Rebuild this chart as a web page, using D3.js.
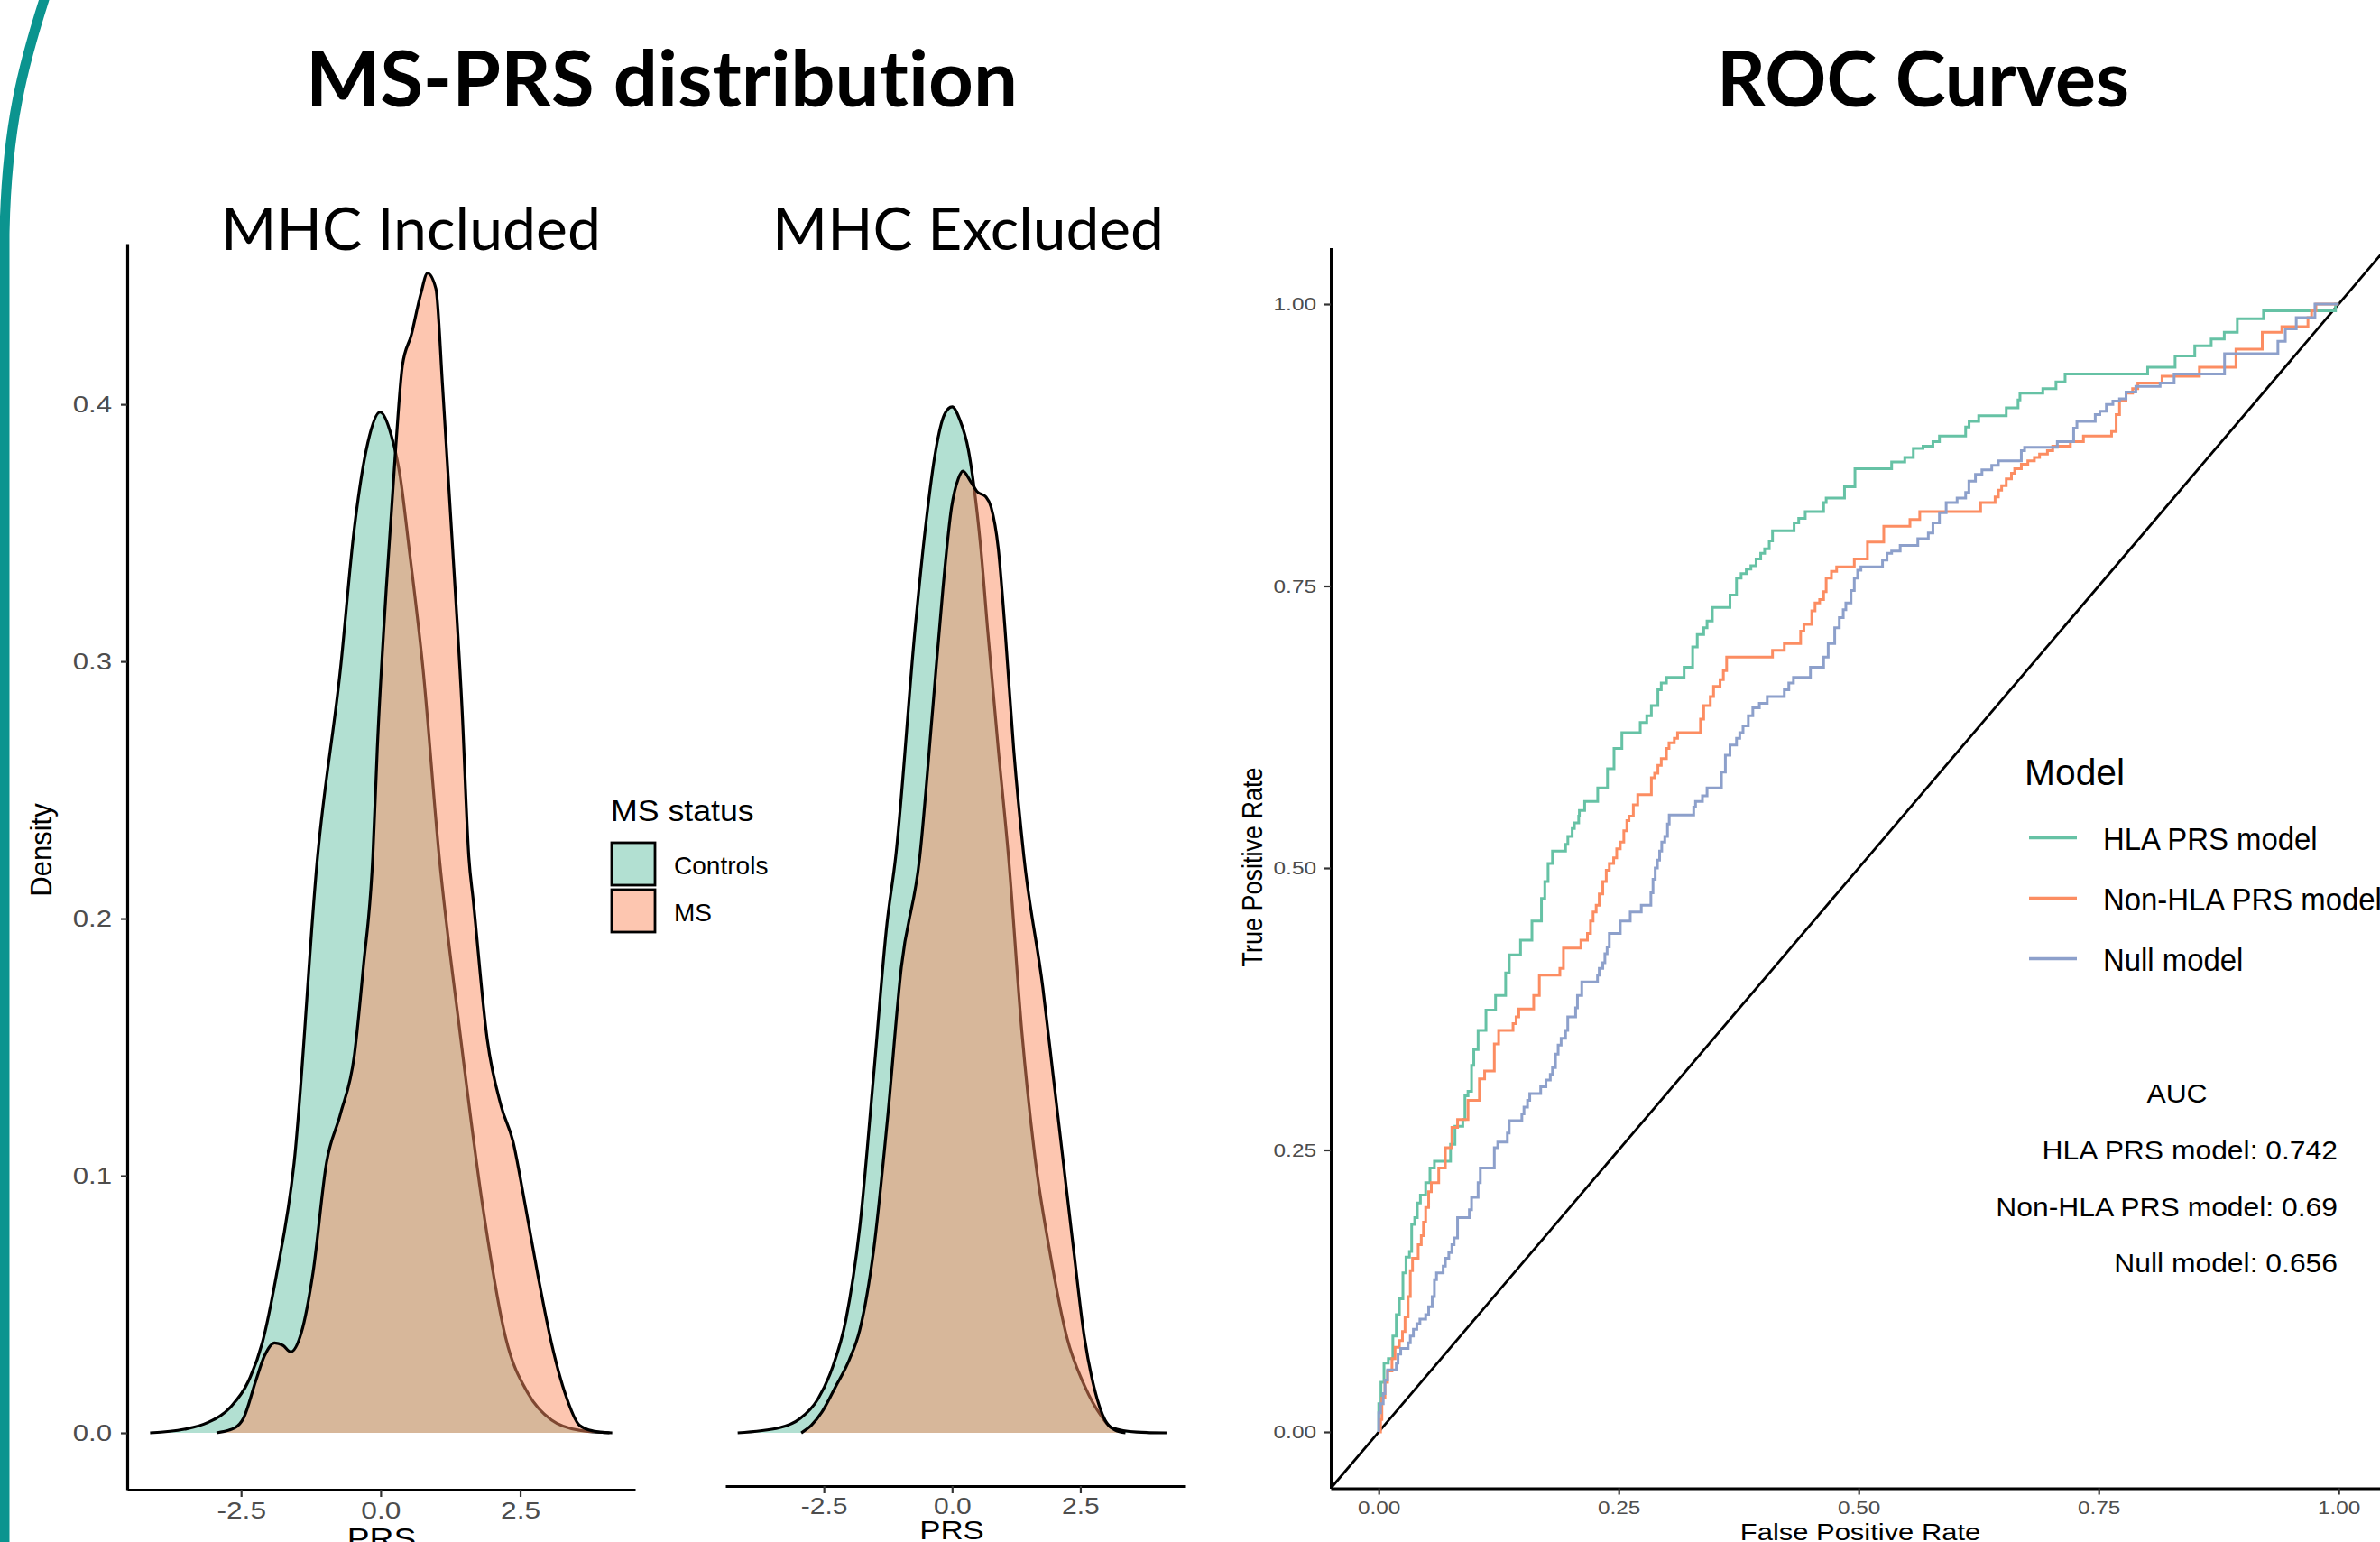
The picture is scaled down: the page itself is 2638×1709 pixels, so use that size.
<!DOCTYPE html>
<html><head><meta charset="utf-8">
<script src="https://cdn.jsdelivr.net/npm/d3@7"></script>
<style>html,body{margin:0;padding:0;background:#fff}svg{display:block}text{font-variant-ligatures:none;font-feature-settings:"liga" 0}</style>
</head><body>
<svg id="chart" width="2638" height="1709"></svg>
<script>
// ---------------- DATA ----------------
const statusNames = ["Controls", "MS"];
const statusColors = ["#66c2a5", "#fc8d62"];
const densityTicks = [0, 0.1, 0.2, 0.3, 0.4];
const prsTicks = [-2.5, 0, 2.5];

// MHC Included: [PRS, density]
const inclControls = [[-4.13,0],[-3.52,0.0014],[-3.1,0.004],[-2.69,0.01],[-2.37,0.02],[-2.12,0.035],[-1.87,0.061],[-1.55,0.105],[-1.13,0.224],[-0.72,0.297],[-0.47,0.352],[-0.23,0.385],[-0.01,0.397],[0.19,0.388],[0.35,0.372],[0.51,0.344],[0.76,0.297],[1.05,0.224],[1.42,0.156],[1.83,0.088],[2.24,0.037],[2.65,0.015],[3.06,0.005],[3.56,0.001],[4.15,0]];
const inclMS = [[-2.94,0],[-2.61,0.002],[-2.45,0.006],[-2.24,0.02],[-2.08,0.03],[-1.9,0.035],[-1.75,0.034],[-1.61,0.0315],[-1.42,0.039],[-1.21,0.0625],[-0.97,0.105],[-0.72,0.124],[-0.47,0.147],[-0.31,0.181],[-0.14,0.224],[-0.06,0.266],[0.1,0.328],[0.27,0.383],[0.39,0.415],[0.55,0.427],[0.72,0.443],[0.84,0.451],[0.99,0.445],[1.11,0.407],[1.29,0.344],[1.46,0.281],[1.58,0.224],[1.66,0.207],[1.91,0.153],[2.16,0.127],[2.37,0.1135],[2.57,0.091],[2.82,0.061],[3.06,0.035],[3.31,0.015],[3.56,0.003],[3.81,0.0007],[4.1,0]];
// MHC Excluded
const exclControls = [[-4.18,0],[-3.36,0.002],[-2.96,0.0056],[-2.62,0.013],[-2.34,0.025],[-2.07,0.044],[-1.8,0.08],[-1.53,0.139],[-1.27,0.198],[-1.1,0.224],[-0.72,0.313],[-0.52,0.352],[-0.32,0.382],[-0.15,0.396],[0,0.399],[0.15,0.394],[0.32,0.382],[0.42,0.369],[0.56,0.344],[0.69,0.313],[0.9,0.266],[1.1,0.224],[1.36,0.156],[1.63,0.105],[1.9,0.071],[2.24,0.037],[2.58,0.0184],[2.91,0.0065],[3.11,0.002],[3.6,0.0003],[4.18,0]];
const exclMS = [[-2.94,0],[-2.74,0.003],[-2.54,0.008],[-2.27,0.018],[-2.0,0.0286],[-1.8,0.04],[-1.53,0.071],[-1.26,0.122],[-0.99,0.181],[-0.63,0.224],[-0.38,0.281],[-0.18,0.328],[-0.01,0.36],[0.12,0.371],[0.21,0.374],[0.36,0.37],[0.49,0.366],[0.66,0.364],[0.76,0.36],[0.9,0.344],[1.03,0.313],[1.2,0.266],[1.4,0.224],[1.77,0.173],[1.97,0.139],[2.17,0.105],[2.37,0.071],[2.58,0.037],[2.78,0.0167],[2.98,0.005],[3.18,0.001],[3.38,0]];

// ROC curves: [false positive rate, true positive rate]
const modelNames = ["HLA PRS model", "Non-HLA PRS model", "Null model"];
const modelColors = ["#66c2a5", "#fc8d62", "#8da0cb"];
const aucValues = ["0.742", "0.69", "0.656"];
const rocTicks = [0, 0.25, 0.5, 0.75, 1];
const hlaRoc = [[0,0],[0,0.025],[0.0023,0.044],[0.0055,0.061],[0.010,0.065],[0.0147,0.085],[0.0183,0.104],[0.0215,0.118],[0.0252,0.141],[0.0284,0.155],[0.032,0.160],[0.0343,0.184],[0.0375,0.190],[0.0402,0.203],[0.0434,0.210],[0.0489,0.221],[0.0534,0.234],[0.058,0.240],[0.0748,0.255],[0.0794,0.271],[0.0876,0.277],[0.0898,0.298],[0.093,0.302],[0.0967,0.325],[0.099,0.339],[0.1035,0.356],[0.1117,0.374],[0.1217,0.387],[0.1322,0.407],[0.136,0.423],[0.1477,0.436],[0.1596,0.453],[0.1695,0.473],[0.173,0.488],[0.1764,0.504],[0.181,0.515],[0.1946,0.521],[0.197,0.528],[0.2015,0.535],[0.2038,0.540],[0.2083,0.546],[0.209,0.551],[0.2145,0.559],[0.2281,0.571],[0.2383,0.588],[0.2451,0.606],[0.2533,0.620],[0.2724,0.629],[0.2792,0.635],[0.284,0.644],[0.2908,0.658],[0.2943,0.664],[0.2997,0.669],[0.3181,0.678],[0.327,0.696],[0.3318,0.707],[0.3385,0.713],[0.342,0.719],[0.3475,0.731],[0.3659,0.742],[0.3727,0.757],[0.3775,0.761],[0.3829,0.765],[0.3877,0.768],[0.3931,0.774],[0.3979,0.779],[0.402,0.783],[0.4068,0.790],[0.4102,0.799],[0.4327,0.806],[0.4375,0.810],[0.4443,0.816],[0.4634,0.824],[0.4661,0.828],[0.4852,0.838],[0.4961,0.854],[0.5343,0.860],[0.548,0.864],[0.5569,0.872],[0.567,0.874],[0.5773,0.878],[0.5841,0.883],[0.6114,0.891],[0.615,0.896],[0.625,0.901],[0.6537,0.908],[0.666,0.915],[0.668,0.921],[0.6918,0.925],[0.7055,0.931],[0.715,0.938],[0.801,0.944],[0.8296,0.954],[0.8501,0.963],[0.8672,0.969],[0.8808,0.975],[0.8944,0.987],[0.9217,0.994],[0.9967,1.0],[1,1]];
const nonHlaRoc = [[0,0],[0.0019,0.011],[0.0033,0.030],[0.0065,0.044],[0.0092,0.054],[0.0138,0.065],[0.017,0.075],[0.0215,0.081],[0.0247,0.089],[0.0274,0.102],[0.0306,0.120],[0.0329,0.143],[0.0352,0.154],[0.0411,0.166],[0.0443,0.174],[0.0466,0.186],[0.0489,0.199],[0.052,0.213],[0.0548,0.221],[0.0625,0.234],[0.0694,0.252],[0.0762,0.270],[0.0821,0.277],[0.093,0.294],[0.1049,0.313],[0.1103,0.320],[0.1204,0.344],[0.1249,0.356],[0.1399,0.362],[0.1431,0.368],[0.1459,0.375],[0.1614,0.387],[0.1673,0.405],[0.1887,0.411],[0.1924,0.429],[0.2106,0.436],[0.2174,0.442],[0.2206,0.453],[0.2233,0.461],[0.2265,0.467],[0.2297,0.477],[0.2334,0.488],[0.237,0.498],[0.2402,0.504],[0.2447,0.509],[0.2479,0.517],[0.2516,0.523],[0.2553,0.533],[0.2585,0.542],[0.2607,0.546],[0.2652,0.556],[0.2698,0.565],[0.284,0.580],[0.2874,0.584],[0.2908,0.591],[0.2943,0.597],[0.2997,0.606],[0.3024,0.611],[0.3079,0.615],[0.3113,0.620],[0.3352,0.632],[0.3385,0.644],[0.3454,0.652],[0.3488,0.661],[0.3556,0.667],[0.359,0.675],[0.3624,0.687],[0.4102,0.693],[0.4225,0.699],[0.4395,0.710],[0.4429,0.716],[0.4511,0.728],[0.4545,0.735],[0.4593,0.738],[0.4634,0.745],[0.4661,0.757],[0.4716,0.763],[0.477,0.767],[0.4954,0.774],[0.5091,0.789],[0.5261,0.803],[0.5534,0.809],[0.5636,0.816],[0.627,0.824],[0.6421,0.829],[0.6455,0.835],[0.6489,0.839],[0.6537,0.845],[0.6591,0.850],[0.6625,0.854],[0.6694,0.858],[0.6762,0.861],[0.683,0.864],[0.6884,0.867],[0.6966,0.870],[0.7021,0.874],[0.7205,0.878],[0.7341,0.883],[0.7634,0.887],[0.7682,0.902],[0.7717,0.914],[0.7785,0.921],[0.7853,0.925],[0.7908,0.930],[0.816,0.936],[0.8549,0.944],[0.893,0.960],[0.9204,0.975],[0.9408,0.980],[0.968,0.988],[0.9718,0.994],[0.9763,1.0],[1,1]];
const nullRoc = [[0,0],[0,0.017],[0.0019,0.025],[0.0047,0.034],[0.0065,0.046],[0.0092,0.055],[0.0183,0.061],[0.0201,0.069],[0.0229,0.074],[0.0306,0.079],[0.0329,0.085],[0.0361,0.091],[0.0397,0.096],[0.0429,0.100],[0.0489,0.104],[0.052,0.111],[0.0557,0.120],[0.058,0.135],[0.0602,0.141],[0.0671,0.147],[0.0694,0.154],[0.073,0.159],[0.0762,0.166],[0.0785,0.172],[0.0821,0.190],[0.0944,0.197],[0.0967,0.208],[0.1035,0.221],[0.1058,0.234],[0.1204,0.252],[0.124,0.257],[0.134,0.265],[0.1359,0.276],[0.1491,0.282],[0.1513,0.288],[0.155,0.294],[0.1573,0.300],[0.1687,0.306],[0.1742,0.312],[0.1787,0.317],[0.181,0.323],[0.1841,0.335],[0.1869,0.343],[0.19,0.349],[0.1946,0.356],[0.1969,0.368],[0.2051,0.376],[0.207,0.387],[0.2115,0.399],[0.2279,0.405],[0.2297,0.411],[0.2334,0.416],[0.2356,0.424],[0.2379,0.430],[0.2402,0.442],[0.2516,0.453],[0.262,0.461],[0.2735,0.467],[0.2835,0.478],[0.2857,0.490],[0.288,0.500],[0.2903,0.507],[0.2926,0.515],[0.2948,0.523],[0.298,0.528],[0.3008,0.539],[0.3026,0.547],[0.3281,0.554],[0.33,0.559],[0.3372,0.564],[0.342,0.571],[0.357,0.585],[0.3611,0.600],[0.3659,0.609],[0.3727,0.615],[0.3761,0.620],[0.3795,0.626],[0.385,0.635],[0.3897,0.642],[0.3965,0.646],[0.4047,0.652],[0.4225,0.658],[0.4272,0.664],[0.432,0.669],[0.4497,0.678],[0.4634,0.687],[0.4682,0.699],[0.475,0.713],[0.4798,0.722],[0.4839,0.729],[0.4866,0.735],[0.492,0.746],[0.4954,0.757],[0.4989,0.764],[0.5023,0.767],[0.5248,0.773],[0.5295,0.779],[0.5343,0.781],[0.5432,0.786],[0.5616,0.792],[0.5725,0.797],[0.5773,0.806],[0.5841,0.815],[0.5911,0.824],[0.6025,0.828],[0.6114,0.833],[0.6148,0.843],[0.6216,0.849],[0.6284,0.853],[0.6386,0.857],[0.6455,0.861],[0.6694,0.870],[0.6728,0.873],[0.7069,0.878],[0.7239,0.890],[0.7273,0.896],[0.7464,0.902],[0.7512,0.905],[0.758,0.911],[0.7648,0.914],[0.7717,0.916],[0.7785,0.922],[0.7887,0.927],[0.814,0.930],[0.8286,0.938],[0.8811,0.956],[0.9367,0.967],[0.9444,0.978],[0.9558,0.988],[0.9753,1.0],[1,1]];
const rocSeries = [hlaRoc, nonHlaRoc, nullRoc];

// ---------------- DRAWING ----------------
const svg = d3.select("#chart");
const SANS = "'Liberation Sans', Arial, Helvetica, sans-serif";
const TITLEF = "Lato, 'Open Sans', sans-serif";

function label(parent, x, y, str, o) {
  const t = parent.append("text")
    .attr("transform", `translate(${x},${y}) scale(${o.sx || 1},1)` + (o.rot ? ` rotate(${o.rot})` : ""))
    .attr("font-family", o.family || SANS)
    .attr("font-size", o.size)
    .attr("font-weight", o.weight || 400)
    .attr("fill", o.fill || "#000")
    .attr("text-anchor", o.anchor || "start")
    .text(str);
  if (o.len) t.attr("textLength", o.len).attr("lengthAdjust", "spacingAndGlyphs");
  return t;
}
function styleAxis(g, size, sx, lw) {
  g.attr("font-family", SANS);
  g.select(".domain").attr("stroke", "#000").attr("stroke-width", lw);
  g.selectAll(".tick line").attr("stroke", "#333").attr("stroke-width", 2.2);
  g.selectAll(".tick text").each(function () {
    const t = d3.select(this);
    const x = +t.attr("x") || 0;
    t.attr("x", 0).attr("transform", `translate(${x},0) scale(${sx},1)`);
  }).attr("font-size", size).attr("fill", "#4d4d4d").attr("font-family", SANS);
}

// decorative teal slide border
svg.append("path").attr("d", "M52,-10 C26,70 7,140 5,260 L5,1720")
  .attr("fill", "none").attr("stroke", "#0b948f").attr("stroke-width", 11);

// titles
label(svg, 733.5, 118, "MS-PRS distribution", {family: TITLEF, weight: 700, size: 87, anchor: "middle", len: 789});
label(svg, 2131.5, 118, "ROC Curves", {family: TITLEF, weight: 700, size: 87, anchor: "middle", len: 457});
label(svg, 455.5, 277, "MHC Included", {family: TITLEF, size: 66, anchor: "middle", len: 421});
label(svg, 1073, 277, "MHC Excluded", {family: TITLEF, size: 66, anchor: "middle", len: 434});

// density scales
const yD = d3.scaleLinear().domain([-0.0221, 0.4625]).range([1651, 270]);
const xL = d3.scaleLinear().domain([-4.54, 4.56]).range([141, 704]);
const xM = d3.scaleLinear().domain([-4.42, 4.55]).range([804, 1314]);

function drawDensities(xs, groups) {
  const g = svg.append("g");
  groups.forEach((data, i) => {
    const area = d3.area().x(d => xs(d[0])).y0(yD(0)).y1(d => yD(d[1])).curve(d3.curveMonotoneX);
    const line = d3.line().x(d => xs(d[0])).y(d => yD(d[1])).curve(d3.curveMonotoneX);
    g.append("path").attr("d", area(data)).attr("fill", statusColors[i]).attr("fill-opacity", 0.5);
    g.append("path").attr("d", line(data)).attr("fill", "none").attr("stroke", "#000").attr("stroke-width", 3.2);
  });
}
drawDensities(xL, [inclControls, inclMS]);
drawDensities(xM, [exclControls, exclMS]);

const fmt1 = d => d.toFixed(1);
// left panel axes
const gyL = svg.append("g").attr("transform", "translate(141,0)")
  .call(d3.axisLeft(yD).tickValues(densityTicks).tickFormat(fmt1).tickSize(7).tickPadding(10).tickSizeOuter(0));
styleAxis(gyL, 26, 1.2, 3.2);
const gxL = svg.append("g").attr("transform", "translate(0,1651)")
  .call(d3.axisBottom(xL).tickValues(prsTicks).tickFormat(fmt1).tickSize(8).tickPadding(6).tickSizeOuter(0));
styleAxis(gxL, 26, 1.22, 3.2);
const gxM = svg.append("g").attr("transform", "translate(0,1647)")
  .call(d3.axisBottom(xM).tickValues(prsTicks).tickFormat(fmt1).tickSize(8).tickPadding(5).tickSizeOuter(0));
styleAxis(gxM, 25, 1.2, 3.2);

label(svg, 57, 942, "Density", {size: 31, sx: 1.1, rot: -90, anchor: "middle"});
label(svg, 423, 1716, "PRS", {size: 31, sx: 1.2, anchor: "middle"});
label(svg, 1055, 1706, "PRS", {size: 29, sx: 1.2, anchor: "middle"});

// MS status legend
label(svg, 677, 910, "MS status", {size: 34, sx: 1.05});
statusNames.forEach((name, i) => {
  const y0 = 934 + i * 52;
  svg.append("rect").attr("x", 678).attr("y", y0).attr("width", 48).attr("height", 47)
    .attr("fill", statusColors[i]).attr("fill-opacity", 0.5).attr("stroke", "#000").attr("stroke-width", 2.8);
  label(svg, 747, y0 + 35, name, {size: 27.5, sx: 1.02});
});

// ROC panel
const xR = d3.scaleLinear().domain([-0.05, 1.05]).range([1475, 1475 + 1.1 * 1064]);
const yR = d3.scaleLinear().domain([-0.05, 1.05]).range([1649.5, 274.5]);
const fmt2 = d => d.toFixed(2);
const gR = svg.append("g");
gR.append("line").attr("x1", xR(-0.05)).attr("y1", yR(-0.05)).attr("x2", xR(1.05)).attr("y2", yR(1.05))
  .attr("stroke", "#000").attr("stroke-width", 2.8);
rocSeries.forEach((data, i) => {
  const line = d3.line().x(d => xR(d[0])).y(d => yR(d[1])).curve(d3.curveStepAfter);
  gR.append("path").attr("d", line(data)).attr("fill", "none").attr("stroke", modelColors[i])
    .attr("stroke-width", 3).attr("stroke-linejoin", "miter");
});
const gyR = svg.append("g").attr("transform", "translate(1475,0)")
  .call(d3.axisLeft(yR).tickValues(rocTicks).tickFormat(fmt2).tickSize(8).tickPadding(8).tickSizeOuter(0));
styleAxis(gyR, 20.5, 1.19, 3);
const gxR = svg.append("g").attr("transform", "translate(0,1649.5)")
  .call(d3.axisBottom(xR).tickValues(rocTicks).tickFormat(fmt2).tickSize(7).tickPadding(7).tickSizeOuter(0));
styleAxis(gxR, 20.5, 1.19, 3);

label(svg, 1399, 961, "True Positive Rate", {size: 27, sx: 1.15, rot: -90, anchor: "middle"});
label(svg, 2062, 1707, "False Positive Rate", {size: 26, sx: 1.19, anchor: "middle"});

// Model legend
label(svg, 2244, 870, "Model", {size: 40, sx: 1.02});
modelNames.forEach((name, i) => {
  const yc = 928.5 + i * 67;
  svg.append("line").attr("x1", 2249).attr("x2", 2302).attr("y1", yc).attr("y2", yc)
    .attr("stroke", modelColors[i]).attr("stroke-width", 3.6);
  label(svg, 2331, yc + 13.5, name, {size: 35, sx: 0.94});
});

// AUC annotation
label(svg, 2413, 1222, "AUC", {size: 28.7, sx: 1.11, anchor: "middle"});
modelNames.forEach((name, i) => {
  label(svg, 2591, 1285 + i * 62.6, `${name}: ${aucValues[i]}`, {size: 28.7, sx: 1.11, anchor: "end"});
});
</script>
</body></html>
